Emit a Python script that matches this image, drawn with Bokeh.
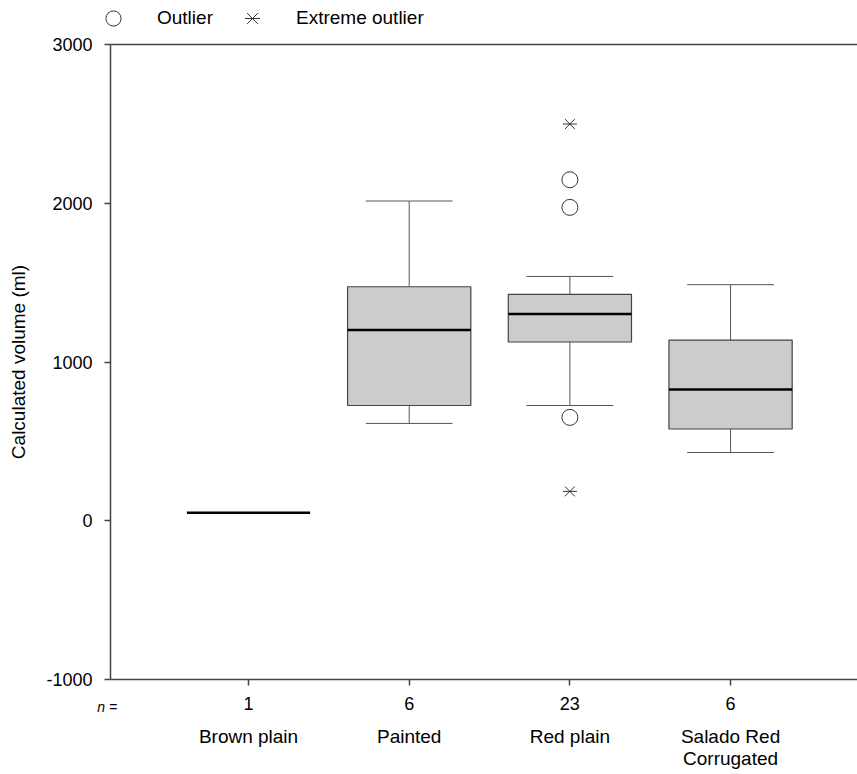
from bokeh.plotting import figure
from bokeh.models import Range1d, LinearAxis, FixedTicker, Legend, LegendItem, Label
from bokeh.layouts import column
from bokeh.embed import file_html
from bokeh.resources import INLINE

# ---- data ----
categories = ["Brown plain", "Painted", "Red plain", "Salado Red\nCorrugated"]
n_counts = [1, 6, 23, 6]
lower_whisker = [50, 613, 726, 430]
q1 = [50, 726, 1126, 578]
median = [50, 1201, 1302, 826]
q3 = [50, 1474, 1426, 1138]
upper_whisker = [50, 2014, 1539, 1487]
outlier_cat = ["Red plain", "Red plain", "Red plain"]
outlier_val = [2148, 1974, 651]
extreme_cat = ["Red plain", "Red plain"]
extreme_val = [2499, 185]
y_ticks = [-1000, 0, 1000, 2000, 3000]
y_tick_labels = ["-1000", "0", "1000", "2000", "3000"]

FONT = "Liberation Sans"
AX = "#444444"
MARK = "#333333"

idx = list(range(len(categories)))
pos = {c: i for i, c in enumerate(categories)}
box_w = 0.767
cap_w = 0.54
out_x = [pos[c] for c in outlier_cat]
ex_x = [pos[c] for c in extreme_cat]

LEG_H = 28

# ---------------- legend strip (top) ----------------
leg = figure(width=857, height=LEG_H, output_backend="svg", toolbar_location=None,
             x_range=Range1d(0, 1), y_range=Range1d(0, 1),
             x_axis_type=None, y_axis_type=None,
             min_border_left=0, min_border_right=0, min_border_top=0, min_border_bottom=0)
leg.frame_align = False
leg.xgrid.visible = False
leg.ygrid.visible = False
leg.outline_line_color = None
# proxies carrying the marker styles (their data lie outside this strip's ranges)
l_out = leg.scatter(x=out_x, y=outlier_val, marker="circle", size=16,
                    fill_color="white", line_color=MARK, line_width=1)
l_ex1 = leg.scatter(x=ex_x, y=extreme_val, marker="x", size=14, line_color=MARK, line_width=1)
l_ex2 = leg.scatter(x=ex_x, y=extreme_val, marker="dash", size=14, line_color=MARK, line_width=1)
legend = Legend(items=[LegendItem(label="Outlier", renderers=[l_out]),
                       LegendItem(label="Extreme outlier", renderers=[l_ex1, l_ex2])],
                orientation="horizontal", location=(94, -8.5),
                glyph_height=38, glyph_width=38, label_standoff=25, spacing=20,
                padding=0, margin=0, border_line_color=None, background_fill_alpha=0,
                label_text_font=FONT, label_text_font_size="19px", label_text_color="black")
leg.add_layout(legend)

# ---------------- main chart ----------------
p = figure(width=857, height=774 - LEG_H, output_backend="svg", toolbar_location=None,
           x_range=Range1d(-0.859, 3.79), y_range=Range1d(-1000, 3000),
           min_border_left=110, min_border_right=0, min_border_top=44 - LEG_H,
           min_border_bottom=95)
p.frame_align = False
p.xgrid.visible = False
p.ygrid.visible = False
p.outline_line_color = None
p.background_fill_color = "white"
p.border_fill_color = "white"

# y axis
yax = p.yaxis[0]
yax.ticker = FixedTicker(ticks=y_ticks)
yax.major_label_overrides = {t: s for t, s in zip(y_ticks, y_tick_labels)}
yax.axis_label = "Calculated volume (ml)"
yax.axis_label_text_font = FONT
yax.axis_label_text_font_size = "19px"
yax.axis_label_text_font_style = "normal"
yax.axis_label_text_color = "black"
yax.axis_label_standoff = 14
yax.major_label_text_font = FONT
yax.major_label_text_font_size = "18px"
yax.major_label_text_color = "black"
yax.major_label_standoff = 12
yax.major_tick_out = 6
yax.major_tick_in = 0
yax.minor_tick_line_color = None
yax.axis_line_color = AX
yax.axis_line_width = 1.5
yax.major_tick_line_color = AX
yax.major_tick_line_width = 1.5

# x axis (n counts)
xax = p.xaxis[0]
xax.ticker = FixedTicker(ticks=idx)
xax.major_label_overrides = {i: str(n) for i, n in zip(idx, n_counts)}
xax.major_label_text_font = FONT
xax.major_label_text_font_size = "18px"
xax.major_label_text_color = "black"
xax.major_label_standoff = 11
xax.major_tick_out = 6
xax.major_tick_in = 0
xax.minor_tick_line_color = None
xax.axis_line_color = AX
xax.axis_line_width = 1.5
xax.major_tick_line_color = AX
xax.major_tick_line_width = 1.5

# second x axis (category names)
xax2 = LinearAxis(ticker=FixedTicker(ticks=idx),
                  major_label_overrides={i: c for i, c in zip(idx, categories)},
                  axis_line_color=None, major_tick_line_color=None, minor_tick_line_color=None,
                  major_tick_out=0, major_tick_in=0,
                  major_label_standoff=13,
                  major_label_text_font=FONT, major_label_text_font_size="19px",
                  major_label_text_color="black", major_label_text_line_height=1.05)
p.add_layout(xax2, "below")

# top border line
tax = LinearAxis(ticker=FixedTicker(ticks=[]), major_label_text_font_size="0px",
                 major_tick_line_color=None, minor_tick_line_color=None,
                 major_tick_out=0, major_tick_in=0, minor_tick_out=0, minor_tick_in=0,
                 major_label_standoff=0,
                 axis_line_color=AX, axis_line_width=1.5)
p.add_layout(tax, "above")

# boxes (only for groups with more than one value)
bi = [i for i in idx if n_counts[i] > 1]
bx = [idx[i] for i in bi]
p.segment(x0=bx, y0=[q3[i] for i in bi], x1=bx, y1=[upper_whisker[i] for i in bi],
          line_color="#555555", line_width=1)
p.segment(x0=bx, y0=[q1[i] for i in bi], x1=bx, y1=[lower_whisker[i] for i in bi],
          line_color="#555555", line_width=1)
p.segment(x0=[x - cap_w / 2 for x in bx], y0=[upper_whisker[i] for i in bi],
          x1=[x + cap_w / 2 for x in bx], y1=[upper_whisker[i] for i in bi],
          line_color="#555555", line_width=1)
p.segment(x0=[x - cap_w / 2 for x in bx], y0=[lower_whisker[i] for i in bi],
          x1=[x + cap_w / 2 for x in bx], y1=[lower_whisker[i] for i in bi],
          line_color="#555555", line_width=1)
p.vbar(x=bx, width=box_w, bottom=[q1[i] for i in bi], top=[q3[i] for i in bi],
       fill_color="#cccccc", line_color="#444444", line_width=1.2)
p.segment(x0=[x - box_w / 2 for x in idx], y0=median, x1=[x + box_w / 2 for x in idx], y1=median,
          line_color="black", line_width=2.5)

# outliers
p.scatter(x=out_x, y=outlier_val, marker="circle", size=16,
          fill_color="white", line_color=MARK, line_width=1)
p.scatter(x=ex_x, y=extreme_val, marker="x", size=14, line_color=MARK, line_width=1)
p.scatter(x=ex_x, y=extreme_val, marker="dash", size=14, line_color=MARK, line_width=1)

# "n =" row label, placed in a side panel (not clipped) at data coordinates
p.add_layout(Label(x=-0.9415, y=-1176, x_units="data", y_units="data", text="n =",
                   text_font=FONT, text_font_size="14px", text_font_style="italic",
                   text_align="left", text_baseline="middle", text_color="black"), "above")

layout = column(leg, p, spacing=0)
open("out.html", "w").write(file_html(layout, INLINE))
